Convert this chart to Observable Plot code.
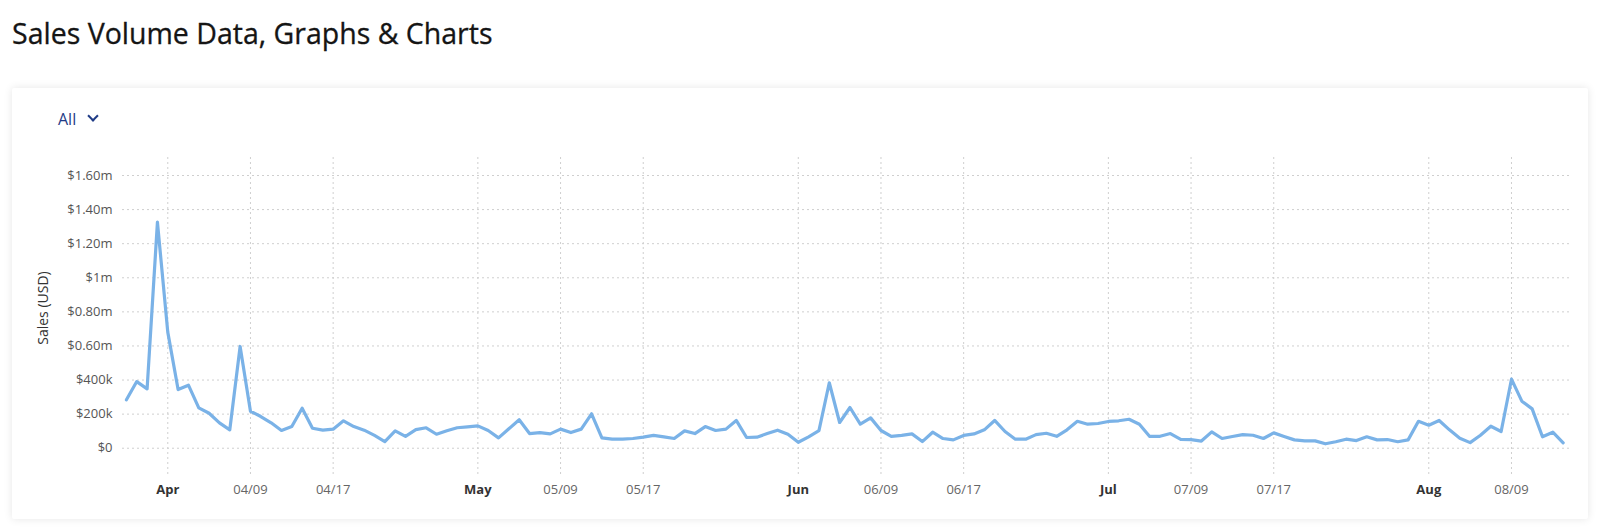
<!DOCTYPE html>
<html>
<head>
<meta charset="utf-8">
<script src="https://cdn.jsdelivr.net/npm/d3@7"></script>
<script src="https://cdn.jsdelivr.net/npm/@observablehq/plot@0.6"></script>
<style>
  html, body { margin: 0; padding: 0; background: #ffffff; width: 1600px; height: 531px; overflow: hidden; font-family: "Open Sans", sans-serif; }
  #title { position: absolute; left: 12px; top: 19px; font-size: 28.5px; line-height: 28px; font-weight: 500; color: #151515; white-space: nowrap; -webkit-text-stroke: 0.3px #151515; }
  #card { position: absolute; left: 12px; top: 88px; width: 1576px; height: 431px; background: #fff; box-shadow: 0 0 8px rgba(0,0,0,0.10); border-radius: 2px; }
  #filter { position: absolute; left: 58px; top: 111px; font-size: 16px; line-height: 16px; color: #1f3b86; }
  #chev { position: absolute; left: 89px; top: 112px; width: 6px; height: 6px; border-right: 2px solid #1f3b86; border-bottom: 2px solid #1f3b86; transform: rotate(45deg); }
  #ylabel { position: absolute; left: 42px; top: 308px; transform: translate(-50%, -50%) rotate(-90deg); font-size: 14px; color: #333; white-space: nowrap; }
  #chart { position: absolute; left: 0; top: 140px; }
</style>
</head>
<body>
<div id="title">Sales Volume Data, Graphs &amp; Charts</div>
<div id="card"></div>
<div id="filter">All</div>
<div id="chev"></div>
<div id="ylabel">Sales (USD)</div>
<div id="chart"></div>
<script>
// Daily sales (thousands of USD), first day = 28 March
const startDate = "2024-03-28";
const marchValues  = [284, 391, 348, 1326];
const aprilValues  = [681, 344, 370, 237, 205, 149, 108, 597, 217, 186, 149, 104, 127, 235, 117, 106, 112, 161, 127, 106, 75, 39, 102, 70, 109, 120, 82, 102, 120, 125];
const mayValues    = [131, 104, 61, 114, 167, 86, 92, 84, 112, 92, 112, 202, 61, 53, 53, 57, 65, 75, 67, 57, 102, 86, 127, 104, 112, 163, 63, 65, 86, 106, 82];
const juneValues   = [35, 67, 103, 384, 151, 239, 141, 178, 104, 69, 75, 84, 39, 94, 57, 49, 75, 84, 108, 163, 98, 53, 53, 80, 88, 70, 108, 158, 141, 145];
const julyValues   = [157, 161, 170, 141, 69, 70, 86, 52, 50, 42, 96, 57, 69, 80, 76, 57, 90, 69, 49, 43, 43, 26, 38, 53, 45, 67, 49, 51, 38, 49, 158];
const augustValues = [135, 163, 108, 59, 33, 76, 129, 98, 405, 276, 231, 67, 94, 32];

const yTicks = [0, 200000, 400000, 600000, 800000, 1000000, 1200000, 1400000, 1600000];
const yTickLabels = ["$0", "$200k", "$400k", "$0.60m", "$0.80m", "$1m", "$1.20m", "$1.40m", "$1.60m"];
const monthTickDates = ["2024-04-01", "2024-05-01", "2024-06-01", "2024-07-01", "2024-08-01"];
const dayTickDates = ["2024-04-09", "2024-04-17", "2024-05-09", "2024-05-17", "2024-06-09", "2024-06-17", "2024-07-09", "2024-07-17", "2024-08-09"];

const allValues = [].concat(marchValues, aprilValues, mayValues, juneValues, julyValues, augustValues);
const start = new Date(startDate + "T00:00:00Z");
const data = allValues.map((v, i) => ({date: d3.utcDay.offset(start, i), value: v * 1000}));

const monthTicks = monthTickDates.map(s => new Date(s + "T00:00:00Z"));
const dayTicks = dayTickDates.map(s => new Date(s + "T00:00:00Z"));
const allTicks = monthTicks.concat(dayTicks);
const yLabelMap = new Map(yTicks.map((t, i) => [t, yTickLabels[i]]));

const DAY = 864e5;
const apr1 = Date.UTC(2024, 3, 1);
const xDomain = [new Date(apr1 - 4.38 * DAY), new Date(apr1 + 135.71 * DAY)];

const chart = Plot.plot({
  width: 1600,
  height: 380,
  marginLeft: 122,
  marginRight: 30,
  marginTop: 17,
  marginBottom: 45,
  style: {fontFamily: "Open Sans", background: "transparent", overflow: "visible"},
  x: {type: "utc", domain: xDomain},
  y: {domain: [-160000, 1705600]},
  marks: [
    Plot.gridY(yTicks, {stroke: "#cfcfcf", strokeOpacity: 1, strokeDasharray: "2,3"}),
    Plot.gridX(allTicks, {stroke: "#cfcfcf", strokeOpacity: 1, strokeDasharray: "2,3"}),
    Plot.axisY(yTicks, {tickSize: 0, tickPadding: 10, tickFormat: d => yLabelMap.get(d), fontSize: 13, fill: "#555", label: null}),
    Plot.axisX(dayTicks, {tickSize: 0, tickPadding: 9, tickFormat: d3.utcFormat("%m/%d"), fontSize: 13, fill: "#666", label: null}),
    Plot.axisX(monthTicks, {tickSize: 0, tickPadding: 9, tickFormat: d3.utcFormat("%b"), fontSize: 13, fontWeight: "bold", fill: "#333", label: null}),
    Plot.line(data, {x: "date", y: "value", stroke: "#7ab2e7", strokeWidth: 3.2, strokeLinejoin: "round", strokeLinecap: "round"})
  ]
});
document.getElementById("chart").appendChild(chart);
</script>
</body>
</html>
